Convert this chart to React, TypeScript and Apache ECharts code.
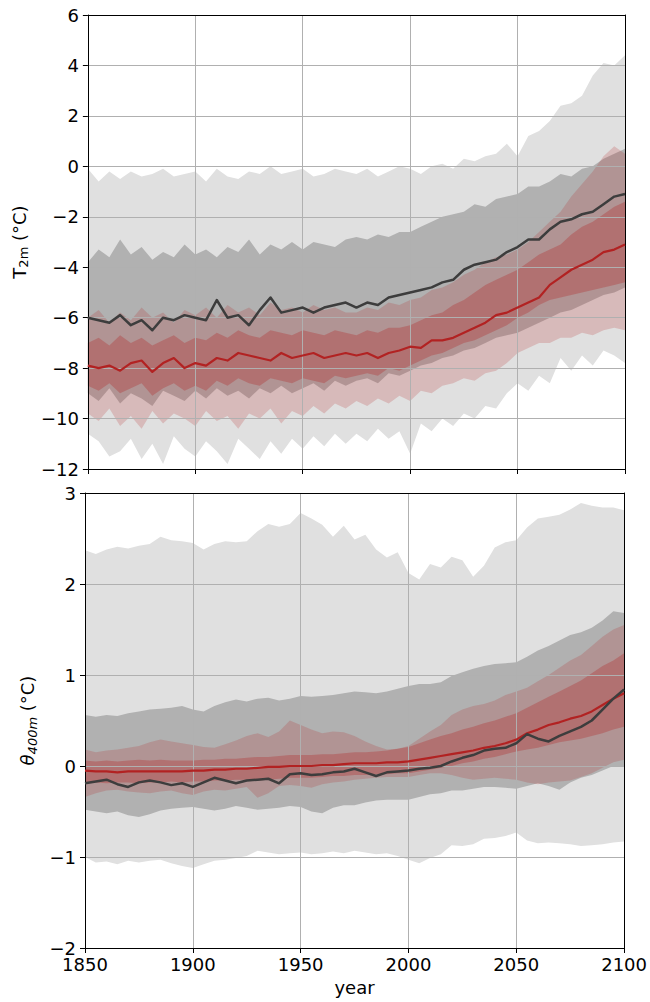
import React, { useEffect, useRef } from 'react';
import * as echarts from 'echarts';

const years = [
  1850, 1855, 1860, 1865, 1870, 1875, 1880, 1885, 1890, 1895,
  1900, 1905, 1910, 1915, 1920, 1925, 1930, 1935, 1940, 1945,
  1950, 1955, 1960, 1965, 1970, 1975, 1980, 1985, 1990, 1995,
  2000, 2005, 2010, 2015, 2020, 2025, 2030, 2035, 2040, 2045,
  2050, 2055, 2060, 2065, 2070, 2075, 2080, 2085, 2090, 2095,
  2100,
];

// ---- Top panel: T2m (°C) ----
const topBlack = [
  -6.0, -6.1, -6.2, -5.9, -6.3, -6.1, -6.5, -6.0, -6.1, -5.9,
  -6.0, -6.1, -5.3, -6.0, -5.9, -6.3, -5.7, -5.2, -5.8, -5.7,
  -5.6, -5.8, -5.6, -5.5, -5.4, -5.6, -5.4, -5.5, -5.2, -5.1,
  -5.0, -4.9, -4.8, -4.6, -4.5, -4.1, -3.9, -3.8, -3.7, -3.4,
  -3.2, -2.9, -2.9, -2.5, -2.2, -2.1, -1.9, -1.8, -1.5, -1.2,
  -1.1,
];
const topRed = [
  -7.9, -8.0, -7.9, -8.1, -7.8, -7.7, -8.15, -7.8, -7.6, -8.0,
  -7.8, -7.9, -7.6, -7.7, -7.4, -7.5, -7.6, -7.7, -7.4, -7.6,
  -7.5, -7.4, -7.6, -7.5, -7.4, -7.5, -7.4, -7.6, -7.4, -7.3,
  -7.15, -7.2, -6.9, -6.9, -6.8, -6.6, -6.4, -6.2, -5.9, -5.8,
  -5.6, -5.4, -5.2, -4.7, -4.4, -4.1, -3.9, -3.7, -3.4, -3.3,
  -3.1,
];
const topLightGrayUpper = [
  -0.1, -0.6, -0.2, -0.5, -0.2, -0.4, -0.3, -0.1, -0.4, -0.3,
  -0.2, -0.6, -0.1, -0.4, -0.5, -0.2, -0.3, 0.0, -0.3, -0.2,
  -0.1, -0.4, -0.3, -0.1, -0.2, -0.3, -0.1, -0.4, -0.2, 0.0,
  -0.1, -0.3, 0.0, 0.1, -0.1, 0.3, 0.2, 0.4, 0.5, 0.9,
  0.4, 1.2, 1.4, 1.8, 2.4, 2.5, 2.8, 3.6, 4.1, 4.0,
  4.4,
];
const topLightGrayLower = [
  -10.6, -10.9, -11.5, -11.3, -10.8, -11.6, -11.0, -11.8, -10.7, -11.2,
  -11.5, -10.9, -11.3, -11.8, -10.8, -11.2, -11.6, -10.9, -11.4, -10.8,
  -11.2, -10.7, -11.1, -10.6, -11.0, -10.6, -10.9, -10.4, -10.8, -10.5,
  -11.4, -10.2, -10.5, -10.0, -10.3, -9.8, -10.0, -9.5, -9.6, -9.0,
  -8.6, -8.9, -8.3, -8.6, -7.6, -8.1, -7.5, -7.9, -7.3, -7.5,
  -7.8,
];
const topDarkGrayUpper = [
  -3.8, -3.3, -3.6, -2.9, -3.5, -3.2, -3.7, -3.4, -3.6, -3.1,
  -3.5, -3.3, -3.6, -3.2, -3.4, -2.9, -3.5, -3.1, -3.3, -3.0,
  -3.3, -3.0, -3.1, -3.2, -2.9, -2.8, -2.9, -2.7, -2.8, -2.6,
  -2.6, -2.4, -2.2, -2.0, -1.9, -1.8, -1.5, -1.6, -1.3, -1.2,
  -1.1, -0.8, -0.8, -0.6, -0.3, -0.4, -0.1, 0.0, 0.3, 0.5,
  0.7,
];
const topDarkGrayLower = [
  -9.0, -9.3, -8.8, -9.4, -9.0, -9.2, -9.5, -8.9, -9.1, -9.3,
  -8.9, -9.2, -8.8, -9.1, -8.9, -9.2, -8.8, -9.0, -8.7, -9.0,
  -8.8, -8.6, -8.9, -8.5, -8.7, -8.5, -8.4, -8.6, -8.2, -8.3,
  -8.1, -7.9, -7.8, -7.6, -7.5, -7.3, -7.2, -7.0, -6.8, -6.7,
  -6.6, -6.4, -6.2, -6.0, -5.8, -5.7, -5.5, -5.3, -5.1, -5.0,
  -4.8,
];
const topLightRedUpper = [
  -6.0, -5.7, -6.2, -5.8, -6.1, -5.6, -6.0, -5.8, -6.2, -5.7,
  -5.9, -5.6, -6.0, -5.5, -5.8, -5.6, -5.9, -5.4, -5.7, -5.6,
  -5.8, -5.5, -5.7, -5.6, -5.8, -5.8, -5.6, -5.7, -5.4, -5.5,
  -5.3, -5.2, -4.9, -4.8, -4.6, -4.3, -4.1, -3.8, -3.6, -3.5,
  -3.3, -3.0, -2.6, -2.2, -1.8, -1.2, -0.7, -0.2, 0.4, 0.8,
  0.5,
];
const topLightRedLower = [
  -9.8, -10.1, -9.6, -10.3, -9.9, -10.4, -9.7, -10.2, -9.8, -10.0,
  -10.3, -9.7, -10.1, -9.9, -10.4, -9.8, -10.0, -9.6, -10.2, -9.7,
  -9.9, -9.5, -9.8, -9.4, -9.6, -9.3, -9.5, -9.2, -9.4, -9.1,
  -9.3, -8.9, -9.0, -8.7, -8.6, -8.4, -8.5, -8.2, -8.1, -7.8,
  -7.4, -7.2, -7.0, -7.0, -6.8, -6.8, -6.6, -6.7, -6.5, -6.4,
  -6.5,
];
const topDarkRedUpper = [
  -7.0, -6.8, -7.1, -6.7, -7.0, -6.8, -7.1, -6.9, -6.7, -7.0,
  -6.8, -6.9, -6.6, -6.8, -6.5, -6.7, -6.8, -6.5, -6.6, -6.7,
  -6.5, -6.6, -6.7, -6.5, -6.6, -6.7, -6.5, -6.6, -6.4, -6.4,
  -6.3, -6.1, -5.9, -5.8, -5.5, -5.3, -5.0, -4.7, -4.5, -4.3,
  -4.1, -3.8, -3.5, -3.3, -3.1, -2.7, -2.4, -2.2, -1.9, -1.6,
  -1.4,
];
const topDarkRedLower = [
  -8.7, -8.9, -8.6, -9.0, -8.8, -8.6, -9.1, -8.8, -8.6, -8.9,
  -8.7, -8.9, -8.5, -8.7, -8.4, -8.6, -8.7, -8.4, -8.5, -8.6,
  -8.4, -8.5, -8.6, -8.3, -8.4, -8.3, -8.2, -8.3, -8.0, -8.1,
  -7.9, -7.7, -7.5, -7.4, -7.2, -7.0, -6.9, -6.7, -6.5, -6.3,
  -6.0, -5.8, -5.5, -5.3, -5.2, -5.1, -5.0, -4.9, -4.8, -4.7,
  -4.6,
];

// ---- Bottom panel: theta400m (°C) ----
const botBlack = [
  -0.19, -0.17, -0.15, -0.20, -0.23, -0.18, -0.16, -0.18, -0.21, -0.19,
  -0.23, -0.18, -0.13, -0.16, -0.19, -0.16, -0.15, -0.14, -0.19, -0.09,
  -0.08, -0.10, -0.09, -0.07, -0.06, -0.03, -0.07, -0.11, -0.07, -0.06,
  -0.05, -0.03, -0.02, 0.00, 0.05, 0.09, 0.12, 0.17, 0.19, 0.20,
  0.25, 0.35, 0.30, 0.27, 0.33, 0.38, 0.43, 0.50, 0.62, 0.74,
  0.84,
];
const botRed = [
  -0.05, -0.06, -0.06, -0.07, -0.06, -0.06, -0.06, -0.06, -0.06, -0.06,
  -0.05, -0.05, -0.04, -0.04, -0.03, -0.03, -0.02, -0.01, -0.01, 0.00,
  0.00, 0.00, 0.01, 0.01, 0.02, 0.03, 0.03, 0.03, 0.04, 0.04,
  0.05, 0.07, 0.09, 0.11, 0.13, 0.15, 0.17, 0.20, 0.22, 0.25,
  0.29, 0.36, 0.40, 0.45, 0.48, 0.52, 0.55, 0.60, 0.67, 0.74,
  0.80,
];
const botLightGrayUpper = [
  2.37, 2.33, 2.38, 2.41, 2.39, 2.42, 2.44, 2.52, 2.48, 2.47,
  2.45, 2.38, 2.44, 2.47, 2.46, 2.47, 2.58, 2.66, 2.63, 2.66,
  2.78, 2.72, 2.65, 2.52, 2.64, 2.49, 2.54, 2.38, 2.29, 2.35,
  2.12, 2.05, 2.22, 2.18, 2.30, 2.26, 2.08, 2.20, 2.40, 2.46,
  2.48, 2.62, 2.72, 2.74, 2.76, 2.82, 2.89, 2.86, 2.84, 2.84,
  2.81,
];
const botLightGrayLower = [
  -1.00, -1.06, -1.05, -1.08, -1.04, -1.06, -1.04, -1.03, -1.07, -1.10,
  -1.12, -1.08, -1.04, -1.03, -1.01, -0.99, -0.93, -0.95, -0.97, -0.96,
  -0.95, -0.97, -0.96, -0.94, -0.96, -0.93, -0.95, -0.97, -0.96, -0.99,
  -1.03, -1.07, -1.01, -0.97, -0.87, -0.88, -0.86, -0.80, -0.79, -0.77,
  -0.73, -0.82, -0.85, -0.84, -0.85, -0.86, -0.88, -0.87, -0.86, -0.84,
  -0.83,
];
const botDarkGrayUpper = [
  0.56, 0.54, 0.56, 0.55, 0.58, 0.60, 0.62, 0.63, 0.64, 0.66,
  0.62, 0.60, 0.66, 0.70, 0.73, 0.71, 0.74, 0.75, 0.72, 0.74,
  0.77, 0.76, 0.77, 0.78, 0.80, 0.82, 0.81, 0.80, 0.82, 0.85,
  0.88, 0.90, 0.90, 0.92, 0.99, 1.03, 1.07, 1.10, 1.12, 1.13,
  1.14, 1.20, 1.27, 1.32, 1.38, 1.44, 1.47, 1.52, 1.60, 1.70,
  1.68,
];
const botDarkGrayLower = [
  -0.48, -0.50, -0.52, -0.50, -0.54, -0.56, -0.53, -0.49, -0.47, -0.46,
  -0.45, -0.47, -0.49, -0.47, -0.44, -0.46, -0.48, -0.47, -0.46, -0.44,
  -0.45, -0.50, -0.52, -0.46, -0.43, -0.43, -0.40, -0.38, -0.37, -0.37,
  -0.37, -0.34, -0.31, -0.30, -0.27, -0.27, -0.25, -0.23, -0.23, -0.24,
  -0.25, -0.22, -0.19, -0.22, -0.26, -0.18, -0.13, -0.10, -0.05, 0.00,
  0.00,
];
const botLightRedUpper = [
  0.18, 0.15, 0.17, 0.18, 0.20, 0.22, 0.26, 0.29, 0.27, 0.25,
  0.23, 0.21, 0.20, 0.24, 0.28, 0.33, 0.36, 0.32, 0.38, 0.50,
  0.45, 0.40, 0.36, 0.38, 0.37, 0.33, 0.27, 0.22, 0.18, 0.19,
  0.22, 0.30, 0.38, 0.45, 0.56, 0.62, 0.66, 0.68, 0.72, 0.78,
  0.82, 0.86, 0.93, 1.00, 1.08, 1.16, 1.22, 1.32, 1.42, 1.50,
  1.55,
];
const botLightRedLower = [
  -0.34, -0.30, -0.27, -0.26, -0.28, -0.29, -0.30, -0.28, -0.27, -0.30,
  -0.32, -0.28, -0.26, -0.27, -0.25, -0.23, -0.35, -0.30, -0.22, -0.21,
  -0.22, -0.24, -0.20, -0.18, -0.17, -0.15, -0.14, -0.13, -0.12, -0.12,
  -0.12, -0.10, -0.08, -0.08, -0.10, -0.13, -0.15, -0.14, -0.13, -0.14,
  -0.15, -0.18, -0.20, -0.18, -0.17, -0.16, -0.12, -0.08, -0.02, 0.04,
  0.07,
];
const botDarkRedUpper = [
  0.06, 0.05, 0.06, 0.05, 0.06, 0.07, 0.06, 0.07, 0.06, 0.06,
  0.06, 0.07, 0.07, 0.08, 0.08, 0.09, 0.10, 0.10, 0.11, 0.12,
  0.12, 0.12, 0.13, 0.13, 0.14, 0.15, 0.15, 0.16, 0.17, 0.19,
  0.21, 0.25, 0.29, 0.33, 0.36, 0.40, 0.43, 0.47, 0.50, 0.54,
  0.58, 0.64, 0.70, 0.76, 0.82, 0.88, 0.94, 1.02, 1.10, 1.16,
  1.24,
];
const botDarkRedLower = [
  -0.19, -0.18, -0.19, -0.18, -0.18, -0.19, -0.18, -0.18, -0.17, -0.18,
  -0.17, -0.17, -0.16, -0.16, -0.15, -0.15, -0.16, -0.15, -0.14, -0.13,
  -0.13, -0.13, -0.12, -0.11, -0.11, -0.10, -0.10, -0.09, -0.09, -0.08,
  -0.08, -0.06, -0.04, -0.02, 0.00, 0.03, 0.05, 0.08, 0.10, 0.13,
  0.16, 0.18, 0.20, 0.23, 0.26, 0.28, 0.30, 0.33, 0.36, 0.40,
  0.43,
];

const topTicks = { min: -12, max: 6, interval: 2 };
const botTicks = { min: -2, max: 3, interval: 1 };
const xTicks = { min: 1850, max: 2100, interval: 50 };

const FONT = 'DejaVu Sans';
const LIGHT_GRAY = '#e0e0e0';
const DARK_GRAY = '#b1b1b1';
const RED = '#b22222';
const BLACK_LINE = '#3d3d3d';

// A shaded band between a lower and an upper curve, drawn as one polygon
// whose vertices come from the series' own data through the grid's scales.
function band(id: string, lower: number[], upper: number[], color: string, opacity: number, axisIdx: number) {
  return {
    type: 'custom',
    name: id,
    xAxisIndex: axisIdx,
    yAxisIndex: axisIdx,
    silent: true,
    z: 1,
    clip: true,
    data: years.map((y, i) => [y, lower[i], upper[i]]),
    encode: { x: 0, y: [1, 2] },
    renderItem: (params: any, api: any) => {
      if (params.dataIndexInside !== 0) return null;
      const n = params.dataInsideLength;
      const pts: number[][] = [];
      for (let i = 0; i < n; i++) pts.push(api.coord([api.value(0, i), api.value(2, i)]));
      for (let i = n - 1; i >= 0; i--) pts.push(api.coord([api.value(0, i), api.value(1, i)]));
      return {
        type: 'polygon',
        shape: { points: pts },
        style: { fill: color, opacity, stroke: 'none' },
      };
    },
  };
}

function meanLine(id: string, vals: number[], color: string, width: number, axisIdx: number) {
  return {
    type: 'line',
    name: id,
    xAxisIndex: axisIdx,
    yAxisIndex: axisIdx,
    data: years.map((y, i) => [y, vals[i]]),
    symbol: 'none',
    showSymbol: false,
    silent: true,
    z: 5,
    lineStyle: { color, width, join: 'round' },
  };
}

const minusFmt = (v: number) => (v < 0 ? '\u2212' + Math.abs(v) : String(v));
const plainFmt = (v: number) => String(v);

export default function App() {
  const ref = useRef<HTMLDivElement>(null);
  useEffect(() => {
    const chart = echarts.init(ref.current!, null, { renderer: 'svg' });
    const axisLine = { show: true, onZero: false, lineStyle: { color: '#000', width: 1 } };
    const splitLine = { show: true, lineStyle: { color: '#b0b0b0', width: 1 } };
    const tick = { show: true, length: 5, inside: false, lineStyle: { color: '#000', width: 1 } };
    const labelStyle = { fontFamily: FONT, fontSize: 18, color: '#000' };
    const frameAxis = (gridIndex: number, position: string, range: any) => ({
      type: 'value', gridIndex, position, ...range, z: 3,
      axisLine, axisTick: { show: false }, axisLabel: { show: false }, splitLine: { show: false },
    });

    const option: any = {
      animation: false,
      grid: [
        { left: 85, top: 15, width: 540, height: 454 },
        { left: 85, top: 493, width: 540, height: 455 },
      ],
      xAxis: [
        {
          type: 'value', gridIndex: 0, position: 'bottom', ...xTicks, z: 3,
          axisLine, axisTick: tick, axisLabel: { show: false }, splitLine,
        },
        {
          type: 'value', gridIndex: 1, position: 'bottom', ...xTicks, z: 3,
          axisLine, axisTick: tick,
          axisLabel: { ...labelStyle, margin: 7, formatter: plainFmt },
          splitLine,
          name: 'year', nameLocation: 'middle', nameGap: 30,
          nameTextStyle: { ...labelStyle },
        },
        frameAxis(0, 'top', xTicks),
        frameAxis(1, 'top', xTicks),
      ],
      yAxis: [
        {
          type: 'value', gridIndex: 0, position: 'left', ...topTicks, z: 3,
          axisLine, axisTick: tick,
          axisLabel: { ...labelStyle, margin: 9, formatter: minusFmt },
          splitLine,
          name: '{m|T}{s|2m}{m| (°C)}', nameLocation: 'middle', nameGap: 54, nameRotate: 90,
          nameTextStyle: {
            ...labelStyle,
            rich: {
              m: { fontFamily: FONT, fontSize: 18, color: '#000', lineHeight: 24 },
              s: { fontFamily: FONT, fontSize: 13, color: '#000', lineHeight: 24, padding: [9, 0, 0, 0] },
            },
          },
        },
        {
          type: 'value', gridIndex: 1, position: 'left', ...botTicks, z: 3,
          axisLine, axisTick: tick,
          axisLabel: { ...labelStyle, margin: 9, formatter: minusFmt },
          splitLine,
          name: '{it|θ}{si|400m}{m| (°C)}', nameLocation: 'middle', nameGap: 40, nameRotate: 90,
          nameTextStyle: {
            ...labelStyle,
            rich: {
              m: { fontFamily: FONT, fontSize: 18, color: '#000', lineHeight: 24 },
              it: { fontFamily: FONT, fontSize: 18, fontStyle: 'italic', color: '#000', lineHeight: 24 },
              si: { fontFamily: FONT, fontSize: 13, fontStyle: 'italic', color: '#000', lineHeight: 24, padding: [9, 0, 0, 0] },
            },
          },
        },
        frameAxis(0, 'right', topTicks),
        frameAxis(1, 'right', botTicks),
      ],
      series: [
        band('t-lg', topLightGrayLower, topLightGrayUpper, LIGHT_GRAY, 1, 0),
        band('t-dg', topDarkGrayLower, topDarkGrayUpper, DARK_GRAY, 1, 0),
        band('t-lr', topLightRedLower, topLightRedUpper, RED, 0.2, 0),
        band('t-dr', topDarkRedLower, topDarkRedUpper, RED, 0.3, 0),
        meanLine('t-red', topRed, RED, 2.2, 0),
        meanLine('t-black', topBlack, BLACK_LINE, 2.5, 0),
        band('b-lg', botLightGrayLower, botLightGrayUpper, LIGHT_GRAY, 1, 1),
        band('b-dg', botDarkGrayLower, botDarkGrayUpper, DARK_GRAY, 1, 1),
        band('b-lr', botLightRedLower, botLightRedUpper, RED, 0.2, 1),
        band('b-dr', botDarkRedLower, botDarkRedUpper, RED, 0.3, 1),
        meanLine('b-red', botRed, RED, 2.2, 1),
        meanLine('b-black', botBlack, BLACK_LINE, 2.5, 1),
      ],
    };
    chart.setOption(option);
    return () => chart.dispose();
  }, []);
  return (
    <div
      ref={ref}
      style={{ position: 'absolute', left: 0, top: 0, width: 650, height: 1002, background: '#fff' }}
    />
  );
}
